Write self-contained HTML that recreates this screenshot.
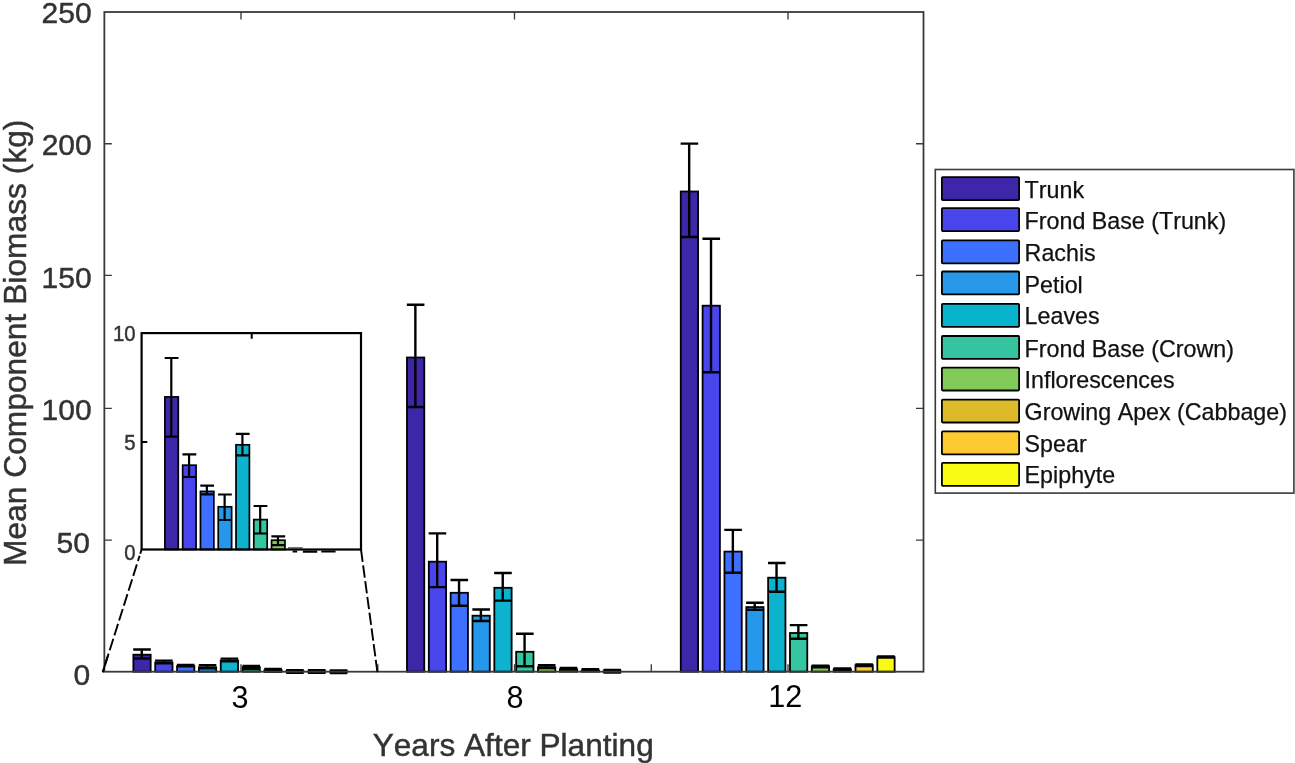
<!DOCTYPE html>
<html lang="en"><head><meta charset="utf-8"><title>Mean Component Biomass</title>
<style>html,body{margin:0;padding:0;background:#fff;}body{width:1295px;height:763px;overflow:hidden;font-family:"Liberation Sans",sans-serif;}svg{display:block;will-change:transform;}text{font-kerning:none;}</style></head>
<body>
<svg width="1295" height="763" viewBox="0 0 1295 763">
<rect width="1295" height="763" fill="#fff"/>
<defs><filter id="soft" x="-2%" y="-2%" width="104%" height="104%"><feGaussianBlur stdDeviation="0.45"/></filter></defs>
<g filter="url(#soft)">
<rect x="133.37" y="654.7" width="17.3" height="17" fill="#3E26A8" stroke="#000" stroke-width="1.8"/>
<rect x="155.21" y="662.5" width="17.3" height="9.2" fill="#4745EB" stroke="#000" stroke-width="1.8"/>
<rect x="177.05" y="666.1" width="17.3" height="5.6" fill="#3D6FFE" stroke="#000" stroke-width="1.8"/>
<rect x="198.89" y="667.3" width="17.3" height="4.4" fill="#2898EB" stroke="#000" stroke-width="1.8"/>
<rect x="220.73" y="660.5" width="17.3" height="11.2" fill="#08B3CE" stroke="#000" stroke-width="1.8"/>
<rect x="242.57" y="667.3" width="17.3" height="4.4" fill="#34C5A0" stroke="#000" stroke-width="1.8"/>
<rect x="264.41" y="670.3" width="17.3" height="1.4" fill="#81CB59" stroke="#000" stroke-width="1.8"/>
<rect x="286.25" y="671.3" width="17.3" height="0.4" fill="#DDBA28" stroke="#000" stroke-width="1.8"/>
<rect x="308.09" y="671.3" width="17.3" height="0.4" fill="#FDCB30" stroke="#000" stroke-width="1.8"/>
<rect x="329.93" y="671.4" width="17.3" height="0.3" fill="#F9FB15" stroke="#000" stroke-width="1.8"/>
<path d="M133.22 649.5H150.82M133.22 658.5H150.82M141.77 649.5V658.5" fill="none" stroke="#000" stroke-width="2.4"/>
<path d="M155.06 660.6H172.66M155.06 663.2H172.66M163.61 660.6V663.2" fill="none" stroke="#000" stroke-width="2.4"/>
<path d="M176.9 665H194.5M176.9 666.2H194.5M185.45 665V666.2" fill="none" stroke="#000" stroke-width="2.4"/>
<path d="M198.74 665.2H216.34M198.74 668.2H216.34M207.29 665.2V668.2" fill="none" stroke="#000" stroke-width="2.4"/>
<path d="M220.58 658.6H238.18M220.58 661.2H238.18M229.13 658.6V661.2" fill="none" stroke="#000" stroke-width="2.4"/>
<path d="M242.42 666H260.02M242.42 669H260.02M250.97 666V669" fill="none" stroke="#000" stroke-width="2.4"/>
<path d="M264.26 669H281.86M264.26 671.6H281.86M272.81 669V671.6" fill="none" stroke="#000" stroke-width="2.4"/>
<path d="M286.1 670.2H303.7M286.1 672.8H303.7M294.65 670.2V672.8" fill="none" stroke="#000" stroke-width="2.4"/>
<path d="M307.94 670.2H325.54M307.94 672.8H325.54M316.49 670.2V672.8" fill="none" stroke="#000" stroke-width="2.4"/>
<path d="M329.78 670.4H347.38M329.78 673H347.38M338.33 670.4V673" fill="none" stroke="#000" stroke-width="2.4"/>
<rect x="406.97" y="357.5" width="17.3" height="314.2" fill="#3E26A8" stroke="#000" stroke-width="1.8"/>
<rect x="428.81" y="561.7" width="17.3" height="110" fill="#4745EB" stroke="#000" stroke-width="1.8"/>
<rect x="450.65" y="592.8" width="17.3" height="78.9" fill="#3D6FFE" stroke="#000" stroke-width="1.8"/>
<rect x="472.49" y="615.7" width="17.3" height="56" fill="#2898EB" stroke="#000" stroke-width="1.8"/>
<rect x="494.33" y="587.8" width="17.3" height="83.9" fill="#08B3CE" stroke="#000" stroke-width="1.8"/>
<rect x="516.17" y="651.8" width="17.3" height="19.9" fill="#34C5A0" stroke="#000" stroke-width="1.8"/>
<rect x="538.01" y="667.3" width="17.3" height="4.4" fill="#81CB59" stroke="#000" stroke-width="1.8"/>
<rect x="559.85" y="669.3" width="17.3" height="2.4" fill="#DDBA28" stroke="#000" stroke-width="1.8"/>
<rect x="581.69" y="670.5" width="17.3" height="1.2" fill="#FDCB30" stroke="#000" stroke-width="1.8"/>
<rect x="603.53" y="671.3" width="17.3" height="0.4" fill="#F9FB15" stroke="#000" stroke-width="1.8"/>
<path d="M406.82 304.7H424.42M406.82 407H424.42M415.37 304.7V407" fill="none" stroke="#000" stroke-width="2.4"/>
<path d="M428.66 533.4H446.26M428.66 587.1H446.26M437.21 533.4V587.1" fill="none" stroke="#000" stroke-width="2.4"/>
<path d="M450.5 580H468.1M450.5 605.8H468.1M459.05 580V605.8" fill="none" stroke="#000" stroke-width="2.4"/>
<path d="M472.34 609.5H489.94M472.34 621H489.94M480.89 609.5V621" fill="none" stroke="#000" stroke-width="2.4"/>
<path d="M494.18 573H511.78M494.18 600.6H511.78M502.73 573V600.6" fill="none" stroke="#000" stroke-width="2.4"/>
<path d="M516.02 633.8H533.62M516.02 666.2H533.62M524.57 633.8V666.2" fill="none" stroke="#000" stroke-width="2.4"/>
<path d="M537.86 665.2H555.46M537.86 668H555.46M546.41 665.2V668" fill="none" stroke="#000" stroke-width="2.4"/>
<path d="M559.7 668H577.3M559.7 669.6H577.3M568.25 668V669.6" fill="none" stroke="#000" stroke-width="2.4"/>
<path d="M581.54 669.2H599.14M581.54 670.6H599.14M590.09 669.2V670.6" fill="none" stroke="#000" stroke-width="2.4"/>
<path d="M603.38 670H620.98M603.38 672.6H620.98M611.93 670V672.6" fill="none" stroke="#000" stroke-width="2.4"/>
<rect x="680.77" y="191.5" width="17.3" height="480.2" fill="#3E26A8" stroke="#000" stroke-width="1.8"/>
<rect x="702.61" y="305.7" width="17.3" height="366" fill="#4745EB" stroke="#000" stroke-width="1.8"/>
<rect x="724.45" y="551.6" width="17.3" height="120.1" fill="#3D6FFE" stroke="#000" stroke-width="1.8"/>
<rect x="746.29" y="607.1" width="17.3" height="64.6" fill="#2898EB" stroke="#000" stroke-width="1.8"/>
<rect x="768.13" y="577.7" width="17.3" height="94" fill="#08B3CE" stroke="#000" stroke-width="1.8"/>
<rect x="789.97" y="633" width="17.3" height="38.7" fill="#34C5A0" stroke="#000" stroke-width="1.8"/>
<rect x="811.81" y="666.4" width="17.3" height="5.3" fill="#81CB59" stroke="#000" stroke-width="1.8"/>
<rect x="833.65" y="669.3" width="17.3" height="2.4" fill="#DDBA28" stroke="#000" stroke-width="1.8"/>
<rect x="855.49" y="665.2" width="17.3" height="6.5" fill="#FDCB30" stroke="#000" stroke-width="1.8"/>
<rect x="877.33" y="657.1" width="17.3" height="14.6" fill="#F9FB15" stroke="#000" stroke-width="1.8"/>
<path d="M680.62 143.6H698.22M680.62 237H698.22M689.17 143.6V237" fill="none" stroke="#000" stroke-width="2.4"/>
<path d="M702.46 238.8H720.06M702.46 372.3H720.06M711.01 238.8V372.3" fill="none" stroke="#000" stroke-width="2.4"/>
<path d="M724.3 529.9H741.9M724.3 572.7H741.9M732.85 529.9V572.7" fill="none" stroke="#000" stroke-width="2.4"/>
<path d="M746.14 602.7H763.74M746.14 609.7H763.74M754.69 602.7V609.7" fill="none" stroke="#000" stroke-width="2.4"/>
<path d="M767.98 563H785.58M767.98 591.7H785.58M776.53 563V591.7" fill="none" stroke="#000" stroke-width="2.4"/>
<path d="M789.82 625.1H807.42M789.82 638.8H807.42M798.37 625.1V638.8" fill="none" stroke="#000" stroke-width="2.4"/>
<path d="M811.66 665.6H829.26M811.66 667.3H829.26M820.21 665.6V667.3" fill="none" stroke="#000" stroke-width="2.4"/>
<path d="M833.5 668.5H851.1M833.5 669.8H851.1M842.05 668.5V669.8" fill="none" stroke="#000" stroke-width="2.4"/>
<path d="M855.34 664.5H872.94M855.34 666H872.94M863.89 664.5V666" fill="none" stroke="#000" stroke-width="2.4"/>
<path d="M877.18 656.5H894.78M877.18 657.6H894.78M885.73 656.5V657.6" fill="none" stroke="#000" stroke-width="2.4"/>
</g>
<g fill="none" stroke="#3a3a3a" stroke-width="1.8">
<rect x="104.35" y="12" width="819.15" height="659.7"/>
<path d="M104.35 143.7h7.5M923.5 143.7h-7.5M104.35 275.4h7.5M923.5 275.4h-7.5M104.35 408.3h7.5M923.5 408.3h-7.5M104.35 540.1h7.5M923.5 540.1h-7.5M241 12v7.5M241 671.7v-7.5M514.5 12v7.5M514.5 671.7v-7.5M788 12v7.5M788 671.7v-7.5M377.8 671.7v-7.5M651.3 671.7v-7.5" stroke-width="1.35"/>
</g>
<g fill="none" stroke="#000" stroke-width="1.9">
<path d="M141.6 549.5L102.7 672.3" stroke-dasharray="12.1 3.5"/>
<path d="M107.6 656.5L102.7 672.3"/>
<path d="M140.25 553.8L139.6 555.85" stroke="#fff" stroke-width="3.4"/>
<path d="M361 549.5L377.4 672.1" stroke-dasharray="12.5 3.4"/>
</g>
<rect x="141.6" y="333.1" width="219.4" height="216.4" fill="#fff"/>
<g filter="url(#soft)">
<rect x="164.89" y="396.9" width="13.4" height="152.6" fill="#3E26A8" stroke="#000" stroke-width="1.7"/>
<rect x="182.67" y="465.2" width="13.4" height="84.3" fill="#4745EB" stroke="#000" stroke-width="1.7"/>
<rect x="200.45" y="491.4" width="13.4" height="58.1" fill="#3D6FFE" stroke="#000" stroke-width="1.7"/>
<rect x="218.23" y="506.8" width="13.4" height="42.7" fill="#2898EB" stroke="#000" stroke-width="1.7"/>
<rect x="236.01" y="444.8" width="13.4" height="104.7" fill="#08B3CE" stroke="#000" stroke-width="1.7"/>
<rect x="253.79" y="519.6" width="13.4" height="29.9" fill="#34C5A0" stroke="#000" stroke-width="1.7"/>
<rect x="271.57" y="540.2" width="13.4" height="9.3" fill="#81CB59" stroke="#000" stroke-width="1.7"/>
<path d="M164.69 358H178.49M164.69 436.6H178.49M171.29 358V436.6" fill="none" stroke="#000" stroke-width="2.2"/>
<path d="M182.47 454.3H196.27M182.47 477H196.27M189.07 454.3V477" fill="none" stroke="#000" stroke-width="2.2"/>
<path d="M200.25 485.7H214.05M200.25 494.4H214.05M206.85 485.7V494.4" fill="none" stroke="#000" stroke-width="2.2"/>
<path d="M218.03 494.5H231.83M218.03 520H231.83M224.63 494.5V520" fill="none" stroke="#000" stroke-width="2.2"/>
<path d="M235.81 433.8H249.61M235.81 455.4H249.61M242.41 433.8V455.4" fill="none" stroke="#000" stroke-width="2.2"/>
<path d="M253.59 506H267.39M253.59 533.5H267.39M260.19 506V533.5" fill="none" stroke="#000" stroke-width="2.2"/>
<path d="M271.37 536.4H285.17M271.37 545.2H285.17M277.97 536.4V545.2" fill="none" stroke="#000" stroke-width="2.2"/>
<path d="M288 547.9H302.7" stroke="#000" stroke-width="0.9" fill="none"/>
<path d="M292.6 551.5H297.2M302.9 551.6H317.2M321.3 551.5H335.6" stroke="#000" stroke-width="2.2" fill="none"/>
</g>
<g fill="none" stroke="#000" stroke-width="2.2">
<rect x="141.6" y="333.1" width="219.4" height="216.4"/>
<path d="M141.6 442h5.7M251.7 333.1v5.7" stroke-width="2"/>
</g>
<g font-family="'Liberation Sans', sans-serif" fill="#333333" stroke="#333333" stroke-width="0.45">
<text transform="translate(91.6 22.8)" font-size="30" text-anchor="end">250</text>
<text transform="translate(91.7 154.5)" font-size="30" text-anchor="end">200</text>
<text transform="translate(91.6 287.8)" font-size="30" text-anchor="end">150</text>
<text transform="translate(91.6 419.7)" font-size="30" text-anchor="end">100</text>
<text transform="translate(89.9 553)" font-size="30" text-anchor="end">50</text>
<text transform="translate(90.1 684.8)" font-size="30" text-anchor="end">0</text>
<text transform="translate(239.9 708) scale(0.9800 1)" font-size="31.2" text-anchor="middle" fill="#000" stroke="none">3</text>
<text transform="translate(514.9 707.9) scale(0.9800 1)" font-size="31.2" text-anchor="middle" fill="#000" stroke="none">8</text>
<text transform="translate(785.2 706.5) scale(0.9800 1)" font-size="31.2" text-anchor="middle" fill="#000" stroke="none">12</text>
<text transform="translate(513.2 755.9)" font-size="31.6" text-anchor="middle">Years After Planting</text>
<text transform="translate(25.7 342.8) rotate(-90)" font-size="31.75" text-anchor="middle">Mean Component Biomass (kg)</text>
<text transform="translate(135.5 340.8) scale(0.9000 1)" font-size="22.6" text-anchor="end">10</text>
<text transform="translate(135.5 450.1) scale(0.9000 1)" font-size="22.6" text-anchor="end">5</text>
<text transform="translate(135.5 559.6) scale(0.9000 1)" font-size="22.6" text-anchor="end">0</text>
</g>
<rect x="935.3" y="169.5" width="358.6" height="323.6" fill="#fff" stroke="#3a3a3a" stroke-width="1.6"/>
<g font-family="'Liberation Sans', sans-serif" fill="#111" stroke="#111" stroke-width="0.25">
<rect x="941.9" y="177.2" width="77.2" height="22.9" rx="0.9" fill="#3E26A8" stroke="#000" stroke-width="1.8"/>
<text transform="translate(1024.6 197.7)" font-size="23.25" text-anchor="start">Trunk</text>
<rect x="941.9" y="208.2" width="77.2" height="22.9" rx="0.9" fill="#4745EB" stroke="#000" stroke-width="1.8"/>
<text transform="translate(1024.6 228.5)" font-size="23.25" text-anchor="start">Frond Base (Trunk)</text>
<rect x="941.9" y="240.4" width="77.2" height="22.9" rx="0.9" fill="#3D6FFE" stroke="#000" stroke-width="1.8"/>
<text transform="translate(1024.6 261)" font-size="23.25" text-anchor="start">Rachis</text>
<rect x="941.9" y="271.5" width="77.2" height="22.9" rx="0.9" fill="#2898EB" stroke="#000" stroke-width="1.8"/>
<text transform="translate(1024.6 293.2)" font-size="23.25" text-anchor="start">Petiol</text>
<rect x="941.9" y="303.9" width="77.2" height="22.9" rx="0.9" fill="#08B3CE" stroke="#000" stroke-width="1.8"/>
<text transform="translate(1024.6 324.3)" font-size="23.25" text-anchor="start">Leaves</text>
<rect x="941.9" y="336" width="77.2" height="22.9" rx="0.9" fill="#34C5A0" stroke="#000" stroke-width="1.8"/>
<text transform="translate(1024.6 356.6)" font-size="23.25" text-anchor="start">Frond Base (Crown)</text>
<rect x="941.9" y="367.6" width="77.2" height="22.9" rx="0.9" fill="#81CB59" stroke="#000" stroke-width="1.8"/>
<text transform="translate(1024.6 387.7)" font-size="23.25" text-anchor="start">Inflorescences</text>
<rect x="941.9" y="399.6" width="77.2" height="22.9" rx="0.9" fill="#DDBA28" stroke="#000" stroke-width="1.8"/>
<text transform="translate(1024.6 420)" font-size="23.25" text-anchor="start">Growing Apex (Cabbage)</text>
<rect x="941.9" y="431.4" width="77.2" height="22.9" rx="0.9" fill="#FDCB30" stroke="#000" stroke-width="1.8"/>
<text transform="translate(1024.6 452)" font-size="23.25" text-anchor="start">Spear</text>
<rect x="941.9" y="462.9" width="77.2" height="22.9" rx="0.9" fill="#F9FB15" stroke="#000" stroke-width="1.8"/>
<text transform="translate(1024.6 483)" font-size="23.25" text-anchor="start">Epiphyte</text>
</g>
</svg>
</body></html>
